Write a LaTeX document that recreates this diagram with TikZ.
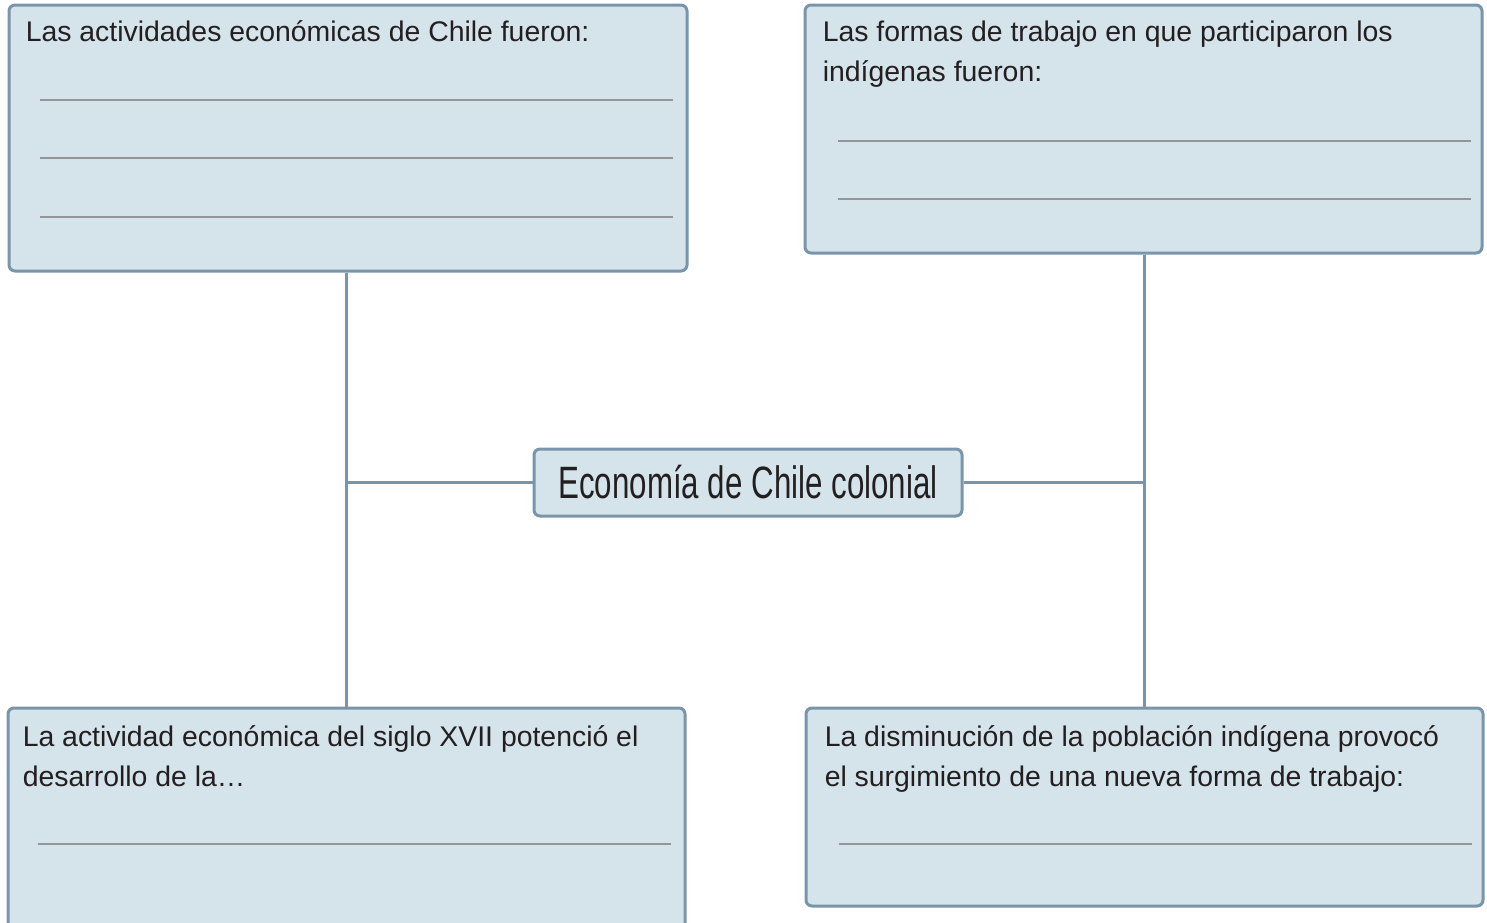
\documentclass[tikz,border=0pt]{standalone}
\usepackage{fontspec}
\setmainfont{Liberation Sans}
\usetikzlibrary{positioning,calc,fit}
\definecolor{ink}{HTML}{231F20}
\definecolor{edge}{HTML}{7895AA}
\definecolor{soft}{HTML}{D5E3EA}
\definecolor{rulec}{HTML}{939598}
\tikzset{
  card/.style={draw=edge,fill=soft,line width=2.25pt,rounded corners=4.5pt,inner sep=0pt},
  txt/.style={text=ink,font=\fontsize{21.3pt}{30pt}\selectfont,align=left,inner sep=0pt,anchor=base west},
  blank/.style={rulec,line width=1.5pt},
  link/.style={edge,line width=2.25pt},
}
\begin{document}
\begin{tikzpicture}[x=0.75pt,y=-0.75pt]
  \useasboundingbox (0,0) rectangle (1487,922);
  % the four question cards
  \node[card,fit={(9,5) (687,271)}] (act) {};
  \node[card,fit={(805,5) (1482,253)}] (formas) {};
  \node[card,fit={(8,708) (685,950)}] (des) {};
  \node[card,fit={(806,708) (1483,906)}] (dism) {};
  % centre
  \node[card,minimum width=321pt,minimum height=50.25pt,text=ink] (eco) at (748,482.5)
    {\fontsize{34pt}{34pt}\selectfont\scalebox{0.69}[1]{Economía de Chile colonial}};
  % connectors
  \draw[link] (des.north) -- (des.north |- act.south);
  \draw[link] (eco.west) -- (eco.west -| des.north);
  \draw[link] (dism.north) -- (dism.north |- formas.south);
  \draw[link] (eco.east) -- (eco.east -| dism.north);
  % texts (base = last line)
  \node[txt] (actT) at ($(act.north west)+(18,38)$) {Las actividades económicas de Chile fueron:};
  \node[txt] (formasT) at ($(formas.north west)+(19,78)$)
    {Las formas de trabajo en que participaron los\\indígenas fueron:};
  \node[txt] (desT) at ($(des.north west)+(16,80)$)
    {La actividad económica del siglo XVII potenció el\\desarrollo de la…};
  \node[txt] (dismT) at ($(dism.north west)+(20,80)$)
    {La disminución de la población indígena provocó\\el surgimiento de una nueva forma de trabajo:};
  % lines to write on
  \foreach \y in {96,154,213}
    \draw[blank] ($(act.north west)+(32,\y)$) -- ($(act.north east)+(-16,\y)$);
  \foreach \y in {137,195}
    \draw[blank] ($(formas.north west)+(34,\y)$) -- ($(formas.north east)+(-13,\y)$);
  \draw[blank] ($(des.north west)+(31,137)$) -- ($(des.north east)+(-16,137)$);
  \draw[blank] ($(dism.north west)+(34,137)$) -- ($(dism.north east)+(-13,137)$);
\end{tikzpicture}
\end{document}
